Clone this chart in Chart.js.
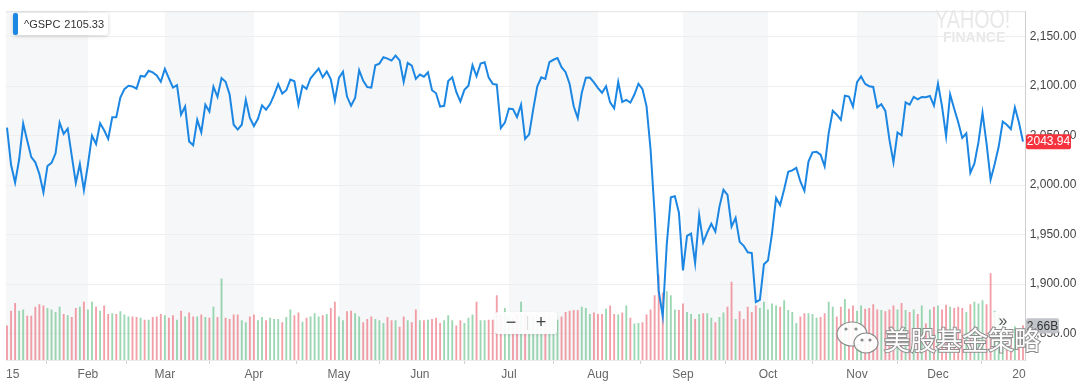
<!DOCTYPE html>
<html><head><meta charset="utf-8">
<script src="https://cdn.jsdelivr.net/npm/chart.js@4/dist/chart.umd.min.js"></script>
<style>html,body{margin:0;padding:0;background:#fff;}canvas{display:block}</style>
</head><body>
<canvas id="c" width="1080" height="389"></canvas>
<script>
// ^GSPC daily closes, 2015 (one per trading day)
const closes = [
 2058.20,2020.58,2002.61,2025.90,2062.14,2044.81,2028.26,2023.03,2011.27,1992.67,2019.42,2022.55,2032.12,2063.15,2051.82,2057.09,2029.55,2002.16,2021.25,1994.99,
 2020.85,2050.03,2041.51,2062.52,2055.47,2046.74,2068.59,2068.53,2088.48,2096.99,2100.34,2099.68,2097.45,2110.30,2109.66,2115.48,2113.86,2110.74,2104.50,
 2117.39,2107.78,2098.53,2101.04,2071.26,2079.43,2044.16,2040.24,2065.95,2053.40,2081.19,2074.28,2099.50,2089.27,2108.10,2104.42,2091.50,2061.05,2056.15,2061.02,2086.24,2067.89,
 2059.69,2066.96,2080.62,2076.33,2081.90,2091.18,2102.06,2092.43,2095.84,2106.63,2104.99,2081.18,2100.40,2097.29,2107.96,2112.93,2117.69,2108.92,2114.76,2106.85,2085.51,
 2108.29,2114.49,2089.46,2080.15,2088.00,2116.10,2105.33,2099.12,2098.48,2121.10,2122.73,2129.20,2127.83,2125.85,2130.82,2126.06,2104.20,2123.48,2120.79,2107.39,
 2111.73,2109.60,2114.07,2095.84,2092.83,2079.28,2080.15,2105.20,2108.86,2094.11,2084.43,2096.29,2100.44,2121.24,2109.99,2122.85,2124.20,2108.58,2102.31,2101.49,2057.64,2063.11,
 2077.42,2076.78,2068.76,2081.34,2046.68,2051.31,2076.62,2099.60,2108.95,2107.40,2124.29,2126.64,2128.28,2119.21,2114.15,2102.15,2079.65,2067.64,2093.25,2108.57,2108.63,2103.84,
 2098.04,2093.32,2099.84,2083.56,2077.57,2104.18,2084.07,2086.05,2083.39,2091.54,2102.44,2096.92,2079.61,2035.73,1970.89,1893.21,1867.61,1940.51,1987.66,1988.87,1972.18,
 1913.85,1948.86,1951.13,1921.22,1969.41,1942.04,1952.29,1961.05,1953.03,1978.09,1995.31,1990.20,1958.03,1966.97,1942.74,1938.76,1932.24,1931.34,1881.77,1884.09,1920.03,
 1923.82,1951.36,1987.05,1979.92,1995.83,2013.43,2014.89,2017.46,2003.69,1994.24,2023.86,2033.11,2033.66,2030.77,2018.94,2052.51,2075.15,2071.18,2065.89,2090.35,2089.41,2079.36,
 2104.05,2109.79,2102.31,2099.93,2099.20,2078.58,2081.72,2075.00,2045.97,2023.04,2053.19,2050.44,2083.58,2081.24,2089.17,2086.59,2089.14,2088.87,2090.11,2080.41,
 2102.63,2079.51,2049.62,2091.69,2077.07,2063.59,2047.62,2052.23,2012.37,2021.94,2043.41,2073.07,2041.89,2005.55,2021.15,2038.97,2064.29,2060.99,2056.50,2078.36,2063.36,2043.94
];
// daily volume, billions of shares
const volumes = [
 2.65,3.8,4.4,3.8,3.9,3.4,3.4,4.1,4.3,4.2,4.0,3.9,3.7,4.1,3.55,3.45,3.3,4.0,4.1,4.5,
 3.9,4.5,4.1,3.8,4.2,3.55,3.6,3.55,3.75,3.5,3.35,3.35,3.3,3.25,3.1,3.1,3.3,3.35,3.55,
 3.45,3.25,3.45,3.1,3.8,3.35,3.65,3.35,3.35,3.5,3.3,3.25,4.1,3.3,6.3,3.25,3.15,3.5,3.5,3.05,2.9,3.35,
 3.5,3.05,3.3,3.05,3.25,3.15,3.15,2.9,3.3,3.9,3.45,3.65,2.95,3.25,3.35,3.6,3.35,3.45,3.55,4.0,4.5,
 3.35,3.05,3.75,3.8,3.6,3.35,2.9,3.15,3.35,3.15,3.05,2.85,3.3,3.05,3.05,2.55,3.35,3.05,2.9,3.9,
 3.05,3.05,3.1,3.15,3.25,2.85,3.05,3.45,3.05,2.65,3.05,2.85,3.25,3.5,4.5,3.05,3.05,3.1,3.1,5.0,3.5,4.0,
 3.4,3.2,3.5,4.5,3.6,3.4,3.3,3.2,3.3,3.2,3.3,3.1,3.1,3.35,3.7,3.8,3.85,3.85,4.1,4.0,3.55,3.65,
 3.55,3.55,3.95,4.2,3.55,3.5,3.65,4.2,3.25,2.8,2.85,2.9,3.5,3.9,5.0,6.6,5.2,5.3,5.0,3.9,3.85,
 4.35,3.7,3.55,3.15,3.55,3.6,3.6,3.25,2.9,3.3,3.65,4.1,6.05,3.15,3.75,3.15,4.1,3.7,4.2,4.0,4.5,
 3.9,4.35,4.2,4.1,4.6,3.85,3.7,2.85,3.35,3.6,3.6,3.55,3.25,3.3,3.6,4.5,4.1,3.35,4.1,4.7,3.95,4.2,
 3.8,4.2,3.95,4.0,4.3,3.9,3.85,3.75,3.9,4.2,3.9,4.4,3.85,3.7,3.9,3.55,4.2,2.8,3.9,4.1,
 4.2,3.9,4.25,4.1,4.0,4.1,4.0,3.7,4.3,4.5,4.35,4.6,4.3,6.7,3.8,3.5,3.3,1.3,2.2,2.6,2.4,2.66
];
const monthStarts = [0,20,39,61,82,102,124,146,167,188,210,230,252];
const tickLabels = ['15','Feb','Mar','Apr','May','Jun','Jul','Aug','Sep','Oct','Nov','Dec','20'];
const priceTicks = [1850,1900,1950,2000,2050,2100,2150];
const prevClose = 2058.90;
const legendSymbol = '^GSPC';
const legendValue = '2105.33';
const watermarkText = '美股基金策略';

const FONT = "'Liberation Sans', Arial, Helvetica, sans-serif";
const X_MIN = -0.247, X_MAX = 251.67;

function rr(ctx,x,y,w,h,r){ctx.beginPath();ctx.moveTo(x+r,y);ctx.lineTo(x+w-r,y);ctx.quadraticCurveTo(x+w,y,x+w,y+r);ctx.lineTo(x+w,y+h-r);ctx.quadraticCurveTo(x+w,y+h,x+w-r,y+h);ctx.lineTo(x+r,y+h);ctx.quadraticCurveTo(x,y+h,x,y+h-r);ctx.lineTo(x,y+r);ctx.quadraticCurveTo(x,y,x+r,y);ctx.closePath();}

const bgPlugin = {
  id:'bg',
  beforeDraw(chart){
    const {ctx, chartArea:a, scales:{x}} = chart;
    ctx.save();
    ctx.fillStyle = '#f6f7f8';
    for (let k=0; k<monthStarts.length-1; k+=2){
      const x0 = k===0 ? a.left : x.getPixelForValue(monthStarts[k]);
      const x1 = Math.min(a.right, x.getPixelForValue(monthStarts[k+1]));
      ctx.fillRect(x0, a.top, x1-x0, a.bottom-a.top);
    }
    ctx.strokeStyle = '#e2e2e2'; ctx.lineWidth = 1;
    ctx.beginPath(); ctx.moveTo(a.left, a.top+0.5); ctx.lineTo(a.right, a.top+0.5); ctx.stroke();
    // Yahoo Finance watermark
    ctx.fillStyle = '#e8e8e8';
    ctx.save(); ctx.translate(935, 28); ctx.scale(0.79, 1);
    ctx.font = "25px " + FONT; ctx.textBaseline='alphabetic'; ctx.fillText('YAHOO!', 0, 0);
    ctx.restore();
    ctx.font = "bold 14px " + FONT; ctx.fillText('FINANCE', 943, 42);
    ctx.restore();
  }
};

const overlayPlugin = {
  id:'overlay',
  afterDraw(chart){
    const {ctx, chartArea:a, scales:{y, vol}} = chart;
    ctx.save();
    // legend box
    ctx.shadowColor='rgba(0,0,0,0.18)'; ctx.shadowBlur=4; ctx.shadowOffsetY=1;
    ctx.fillStyle='#fff'; rr(ctx,13,13,95,22,3); ctx.fill();
    ctx.shadowColor='transparent';
    ctx.fillStyle='#1c86e3'; rr(ctx,13,13,5,22,2); ctx.fill();
    ctx.fillStyle='#333'; ctx.font="11px "+FONT; ctx.textBaseline='middle'; ctx.textAlign='left';
    ctx.fillText(legendSymbol, 24, 24.5);
    ctx.fillText(legendValue, 24 + ctx.measureText(legendSymbol).width + 4, 24.5);
    // last price label
    const lastC = closes[closes.length-1];
    const py = y.getPixelForValue(lastC);
    ctx.fillStyle='#f4333f'; rr(ctx,1026,py-7.5,45,15,2); ctx.fill();
    ctx.fillStyle='#fff'; ctx.textAlign='center'; ctx.font="12px "+FONT;
    ctx.fillText(lastC.toFixed(2), 1048.5, py+0.5);
    // last volume label
    const lastV = volumes[volumes.length-1];
    const vy = vol.getPixelForValue(lastV);
    ctx.fillStyle='rgba(190,193,198,0.95)'; rr(ctx,1026,vy-7.5,33,15,2); ctx.fill();
    ctx.fillStyle='#333'; ctx.fillText(lastV.toFixed(2)+'B', 1042.5, vy+0.5);
    // zoom control
    ctx.shadowColor='rgba(0,0,0,0.12)'; ctx.shadowBlur=3;
    ctx.fillStyle='rgba(255,255,255,0.93)'; rr(ctx,495,312,62,22,3); ctx.fill();
    ctx.shadowColor='transparent';
    ctx.strokeStyle='#ddd'; ctx.beginPath(); ctx.moveTo(527.5,316); ctx.lineTo(527.5,330); ctx.stroke();
    ctx.fillStyle='#444'; ctx.font="18px "+FONT;
    ctx.fillText('\u2212', 511, 323); ctx.fillText('+', 541, 323);
    // >> button
    ctx.fillStyle='rgba(255,255,255,0.85)'; rr(ctx,992,312,22,22,3); ctx.fill();
    ctx.fillStyle='#555'; ctx.font="16px "+FONT; ctx.fillText('\u00bb', 1003, 322);
    // WeChat watermark
    ctx.lineWidth=1.2; ctx.strokeStyle='#8c8c8c'; ctx.fillStyle='rgba(255,255,255,0.9)';
    ctx.beginPath(); ctx.ellipse(852,334,15,12,0,0,Math.PI*2); ctx.fill(); ctx.stroke();
    ctx.beginPath(); ctx.ellipse(866,343,12,10,0,0,Math.PI*2); ctx.fill(); ctx.stroke();
    ctx.fillStyle='#8c8c8c';
    [[846,329],[856,329],[862,340],[870,340]].forEach(p=>{ctx.beginPath();ctx.arc(p[0],p[1],1.6,0,Math.PI*2);ctx.fill();});
    ctx.font="26px 'Noto Sans CJK SC', sans-serif"; ctx.textAlign='left'; ctx.textBaseline='middle';
    ctx.lineWidth=2; ctx.strokeStyle='#8f8f8f'; ctx.strokeText(watermarkText, 884, 340);
    ctx.fillStyle='#fff'; ctx.fillText(watermarkText, 884, 340);
    ctx.restore();
  }
};

const volColors = closes.map((c,i)=> c >= (i ? closes[i-1] : prevClose) ? 'rgba(95,190,132,0.62)' : 'rgba(236,100,114,0.62)');

new Chart(document.getElementById('c'), {
  type:'line',
  data:{datasets:[
    {type:'line', data: closes.map((v,i)=>({x:i,y:v})), borderColor:'#1c86e3', borderWidth:2, pointRadius:0, tension:0, fill:false, yAxisID:'y', order:0},
    {type:'bar', data: volumes.map((v,i)=>({x:i,y:v})), backgroundColor: volColors, barThickness:1.2, yAxisID:'vol', order:1}
  ]},
  options:{
    responsive:false, animation:false, devicePixelRatio:1,
    layout:{padding:{left:6, top:3, right:0, bottom:0}},
    plugins:{legend:{display:false}, tooltip:{enabled:false}},
    scales:{
      x:{type:'linear', min:X_MIN, max:X_MAX, offset:false,
        afterBuildTicks:s=>{ s.ticks = monthStarts.map((v,i)=>({value: i===0 ? X_MIN : (i===monthStarts.length-1 ? X_MAX : v)})); },
        afterFit:s=>{ s.height = 29; s.paddingLeft = 0; s.paddingRight = 0; },
        grid:{drawOnChartArea:false, drawTicks:true, tickLength:4, color:'#d0d0d0'},
        border:{display:true, color:'#ebebeb'},
        ticks:{autoSkip:false, maxRotation:0, minRotation:0, align:'inner', padding:3, color:'#666', font:{family:FONT, size:12}, callback:(v,i)=>tickLabels[i]}
      },
      y:{position:'right', min:1823.4, max:2175.7,
        afterBuildTicks:s=>{ s.ticks = priceTicks.map(v=>({value:v})); },
        afterFit:s=>{ s.width = 54.3; },
        grid:{color:'#eeeeee', drawTicks:false}, border:{display:true, color:'#cfcfcf'},
        ticks:{padding:4, color:'#444', font:{family:FONT, size:12}, callback:v=>Number(v).toLocaleString('en-US',{minimumFractionDigits:2, maximumFractionDigits:2})}
      },
      vol:{display:false, min:0, max:27.05, position:'left'}
    }
  },
  plugins:[bgPlugin, overlayPlugin]
});
</script>
</body></html>
